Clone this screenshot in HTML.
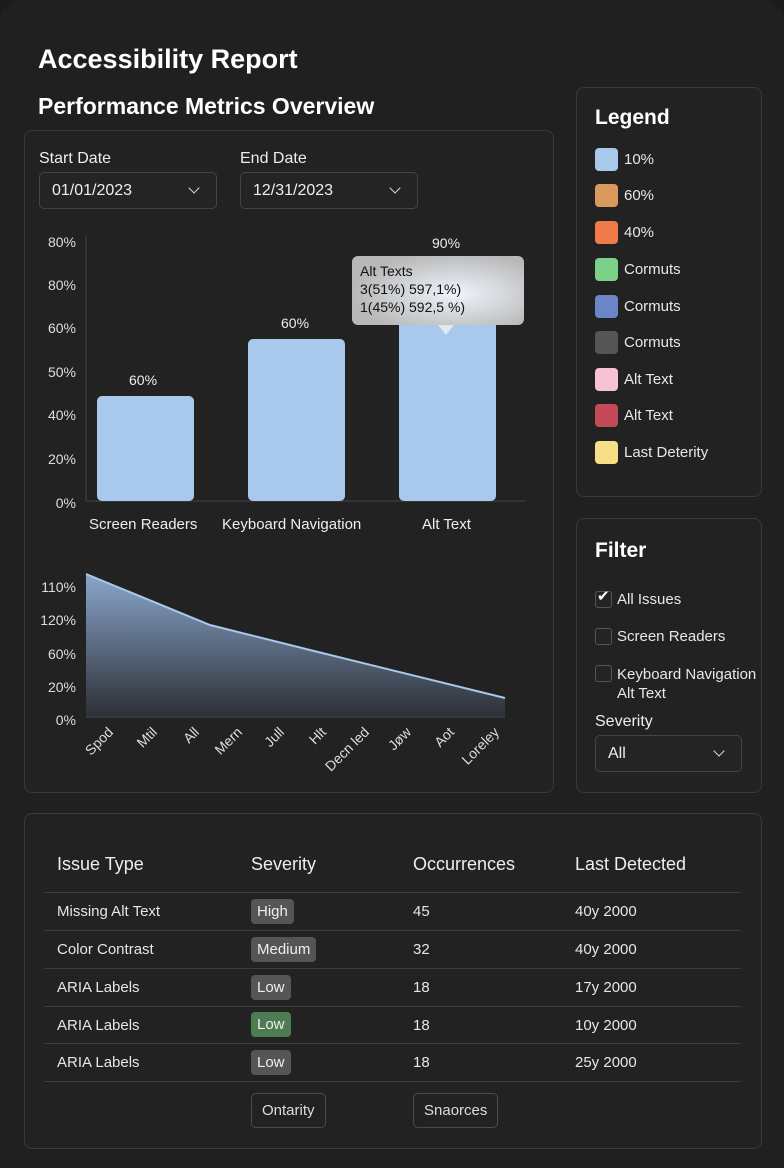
<!DOCTYPE html>
<html><head><meta charset="utf-8"><style>
*{box-sizing:border-box;margin:0;padding:0}
html,body{width:784px;height:1168px;background:#1b1b1b;overflow:hidden}
body{font-family:"Liberation Sans","DejaVu Sans",sans-serif;color:#eee;position:relative}
.page{position:absolute;left:0;top:0;width:784px;height:1168px;background:#202020;border-radius:22px 22px 0 0}
.a{position:absolute;white-space:nowrap}
.panel{position:absolute;border:1px solid #3a3a3a;border-radius:8px;background:#222}
.sel{position:absolute;border:1px solid #444;border-radius:5px;background:#242424;font-size:16px;padding:9px 12px}
.sw{position:absolute;width:23px;height:23px;border-radius:4px}
.lt{position:absolute;font-size:15px;color:#e8e8e8}
.yl{position:absolute;font-size:14px;color:#ddd;text-align:right;width:40px}
.cb{position:absolute;width:17px;height:17px;border:1px solid #555;border-radius:3px;background:#242424}
.td{position:absolute;font-size:15px;color:#e6e6e6}
.badge{position:absolute;height:25px;border-radius:4px;background:#555;font-size:15px;padding:4px 6px;color:#eee}
.hl{position:absolute;left:44px;width:697px;height:1px;background:#3c3c3c}
.btn{position:absolute;border:1px solid #4a4a4a;border-radius:5px;font-size:15px;padding:8px 10px;color:#ddd}
.chev{position:absolute;width:8px;height:8px;border-right:1.5px solid #ddd;border-bottom:1.5px solid #ddd;transform:rotate(45deg)}
</style></head><body><div class="page">
<div class="a" style="left:38px;top:44px;font-size:27px;color:#fff;font-weight:600">Accessibility Report</div>
<div class="a" style="left:38px;top:93px;font-size:23px;color:#fff;font-weight:600">Performance Metrics Overview</div>

<div class="panel" style="left:24px;top:130px;width:530px;height:663px"></div>
<div class="a" style="left:39px;top:150px;font-size:16px">Start Date</div>
<div class="a" style="left:240px;top:150px;font-size:16px">End Date</div>
<div class="sel" style="left:39px;top:172px;width:178px;height:37px">01/01/2023</div>
<div class="chev" style="left:190px;top:184px"></div>
<div class="sel" style="left:240px;top:172px;width:178px;height:37px">12/31/2023</div>
<div class="chev" style="left:391px;top:184px"></div>

<div class="yl" style="left:36px;top:234px">80%</div>
<div class="yl" style="left:36px;top:277px">80%</div>
<div class="yl" style="left:36px;top:320px">60%</div>
<div class="yl" style="left:36px;top:364px">50%</div>
<div class="yl" style="left:36px;top:407px">40%</div>
<div class="yl" style="left:36px;top:451px">20%</div>
<div class="yl" style="left:36px;top:495px">0%</div>
<svg class="a" style="left:0;top:0" width="784" height="800">
<line x1="86" y1="236" x2="86" y2="501" stroke="#444"/>
<line x1="86" y1="501" x2="525" y2="501" stroke="#444"/>
<rect x="97" y="396" width="97" height="105" rx="5" fill="#a8c8ec"/>
<rect x="248" y="339" width="97" height="162" rx="5" fill="#a8c8ec"/>
<rect x="399" y="318" width="97" height="183" rx="5" fill="#a8c8ec"/>
<defs><linearGradient id="g" x1="0" y1="0" x2="0" y2="1"><stop offset="0" stop-color="#8aa6cc"/><stop offset="1" stop-color="#2c2f35"/></linearGradient>
<radialGradient id="t" cx="0.6" cy="0.55" r="0.6"><stop offset="0" stop-color="#eef4fc"/><stop offset="1" stop-color="#b8b8b8"/></radialGradient></defs>
<path d="M86 574 L210 625 L310 650 L505 698 L505 717 L86 717 Z" fill="url(#g)"/>
<path d="M86 574 L210 625 L310 650 L505 698" stroke="#a8c8ec" stroke-width="2" fill="none"/>
<line x1="86" y1="717" x2="505" y2="717" stroke="#444"/>
<rect x="352" y="256" width="172" height="69" rx="6" fill="url(#t)"/>
<path d="M438 325 L446 335 L454 325Z" fill="#dfe8f3"/>
<g font-family="Liberation Sans, sans-serif" font-size="14" fill="#ddd" text-anchor="end">
<text transform="translate(114,733) rotate(-45)">Spod</text>
<text transform="translate(158,733) rotate(-45)">Mtil</text>
<text transform="translate(200,733) rotate(-45)">All</text>
<text transform="translate(243,733) rotate(-45)">Mern</text>
<text transform="translate(285,733) rotate(-45)">Jull</text>
<text transform="translate(327,733) rotate(-45)">Hlt</text>
<text transform="translate(370,733) rotate(-45)">Decn led</text>
<text transform="translate(412,733) rotate(-45)">Jøw</text>
<text transform="translate(455,733) rotate(-45)">Aot</text>
<text transform="translate(500,733) rotate(-45)">Loreley</text>
</g>
</svg>
<div class="a" style="left:129px;top:372px;font-size:14px">60%</div>
<div class="a" style="left:281px;top:315px;font-size:14px">60%</div>
<div class="a" style="left:432px;top:235px;font-size:14px">90%</div>
<div class="a" style="left:360px;top:262px;font-size:14px;color:#111;line-height:18px">Alt Texts<br>3(51%) 597,1%)<br>1(45%) 592,5 %)</div>
<div class="a" style="left:89px;top:516px;font-size:15px">Screen Readers</div>
<div class="a" style="left:222px;top:516px;font-size:15px">Keyboard Navigation</div>
<div class="a" style="left:422px;top:516px;font-size:15px">Alt Text</div>

<div class="yl" style="left:36px;top:579px">110%</div>
<div class="yl" style="left:36px;top:612px">120%</div>
<div class="yl" style="left:36px;top:646px">60%</div>
<div class="yl" style="left:36px;top:679px">20%</div>
<div class="yl" style="left:36px;top:712px">0%</div>

<div class="panel" style="left:576px;top:87px;width:186px;height:410px"></div>
<div class="a" style="left:595px;top:106px;font-size:21px;color:#fff;font-weight:600">Legend</div>
<div class="sw" style="left:595px;top:148px;background:#a8c8ec"></div><div class="lt" style="left:624px;top:151px">10%</div>
<div class="sw" style="left:595px;top:184px;background:#d9985c"></div><div class="lt" style="left:624px;top:187px">60%</div>
<div class="sw" style="left:595px;top:221px;background:#f07a4a"></div><div class="lt" style="left:624px;top:224px">40%</div>
<div class="sw" style="left:595px;top:258px;background:#7dd08a"></div><div class="lt" style="left:624px;top:261px">Cormuts</div>
<div class="sw" style="left:595px;top:295px;background:#6a86c8"></div><div class="lt" style="left:624px;top:298px">Cormuts</div>
<div class="sw" style="left:595px;top:331px;background:#555"></div><div class="lt" style="left:624px;top:334px">Cormuts</div>
<div class="sw" style="left:595px;top:368px;background:#f7c3d4"></div><div class="lt" style="left:624px;top:371px">Alt Text</div>
<div class="sw" style="left:595px;top:404px;background:#c44a5a"></div><div class="lt" style="left:624px;top:407px">Alt Text</div>
<div class="sw" style="left:595px;top:441px;background:#f7df88"></div><div class="lt" style="left:624px;top:444px">Last Deterity</div>

<div class="panel" style="left:576px;top:518px;width:186px;height:275px"></div>
<div class="a" style="left:595px;top:539px;font-size:21px;color:#fff;font-weight:600">Filter</div>
<div class="cb" style="left:595px;top:591px"></div><div class="a" style="left:597px;top:587px;font-size:15px;color:#fff">✔</div>
<div class="lt" style="left:617px;top:591px">All Issues</div>
<div class="cb" style="left:595px;top:628px"></div><div class="lt" style="left:617px;top:628px">Screen Readers</div>
<div class="cb" style="left:595px;top:665px"></div><div class="lt" style="left:617px;top:665px;line-height:19px">Keyboard Navigation<br>Alt Text</div>
<div class="a" style="left:595px;top:713px;font-size:16px">Severity</div>
<div class="sel" style="left:595px;top:735px;width:147px;height:37px">All</div>
<div class="chev" style="left:715px;top:747px"></div>

<div class="panel" style="left:24px;top:813px;width:738px;height:336px"></div>
<div class="a" style="left:57px;top:854px;font-size:18px">Issue Type</div>
<div class="a" style="left:251px;top:854px;font-size:18px">Severity</div>
<div class="a" style="left:413px;top:854px;font-size:18px">Occurrences</div>
<div class="a" style="left:575px;top:854px;font-size:18px">Last Detected</div>
<div class="hl" style="top:892px"></div><div class="hl" style="top:930px"></div><div class="hl" style="top:968px"></div><div class="hl" style="top:1006px"></div><div class="hl" style="top:1043px"></div><div class="hl" style="top:1081px"></div>
<div class="td" style="left:57px;top:903px">Missing Alt Text</div><div class="badge" style="left:251px;top:899px">High</div><div class="td" style="left:413px;top:903px">45</div><div class="td" style="left:575px;top:903px">40y 2000</div>
<div class="td" style="left:57px;top:941px">Color Contrast</div><div class="badge" style="left:251px;top:937px">Medium</div><div class="td" style="left:413px;top:941px">32</div><div class="td" style="left:575px;top:941px">40y 2000</div>
<div class="td" style="left:57px;top:979px">ARIA Labels</div><div class="badge" style="left:251px;top:975px">Low</div><div class="td" style="left:413px;top:979px">18</div><div class="td" style="left:575px;top:979px">17y 2000</div>
<div class="td" style="left:57px;top:1017px">ARIA Labels</div><div class="badge" style="left:251px;top:1012px;background:#4c7d52">Low</div><div class="td" style="left:413px;top:1017px">18</div><div class="td" style="left:575px;top:1017px">10y 2000</div>
<div class="td" style="left:57px;top:1054px">ARIA Labels</div><div class="badge" style="left:251px;top:1050px">Low</div><div class="td" style="left:413px;top:1054px">18</div><div class="td" style="left:575px;top:1054px">25y 2000</div>
<div class="btn" style="left:251px;top:1093px">Ontarity</div>
<div class="btn" style="left:413px;top:1093px">Snaorces</div>
</div></body></html>
